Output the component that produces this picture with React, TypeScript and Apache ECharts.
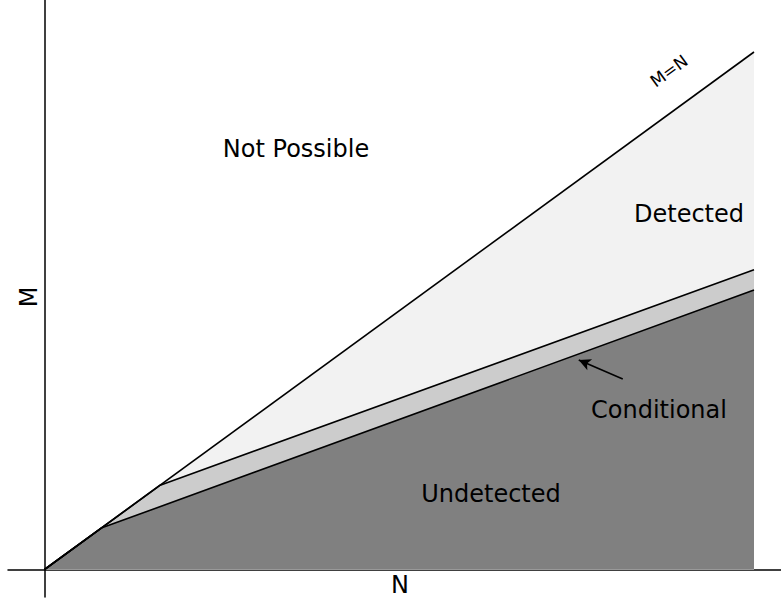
import React, { useEffect, useRef } from "react";
import * as echarts from "echarts";

// Region boundaries in (N, M) units
const mEqualsN: number[][] = [[0, 0], [1, 1]];
const conditionalUpper: number[][] = [[0, 0], [0.163, 0.163], [1, 0.579]];
const conditionalLower: number[][] = [[0, 0], [0.08, 0.08], [1, 0.54]];
const arrowFrom: number[] = [0.815, 0.368];
const arrowTo: number[] = [0.753, 0.405];

const regionLabels = ["Not Possible", "Detected", "Conditional", "Undetected"];
const diagonalLabel = "M=N";
const xName = "N";
const yName = "M";

const FONT = "DejaVu Sans";

export default function App() {
  const ref = useRef<HTMLDivElement>(null);
  useEffect(() => {
    if (!ref.current) return;
    const chart = echarts.init(ref.current, null, { renderer: "svg" });
    const lineStyle = { color: "#000", width: 1.6 };
    const mk = (name: string, data: number[][], fill: string) => ({
      name,
      type: "line",
      data,
      symbol: "none",
      lineStyle,
      areaStyle: { color: fill, opacity: 1, origin: 0 },
      silent: true,
    });
    const txt = (text: string, x: number, y: number, size: number, rotation = 0) => ({
      type: "text",
      x,
      y,
      z: 100,
      rotation,
      style: { text, font: `${size}px '${FONT}'`, fill: "#000", align: "center", verticalAlign: "middle" },
    });
    chart.setOption({
      animation: false,
      grid: { left: 8, right: 0, top: 0, bottom: 3 },
      xAxis: {
        type: "value",
        min: -0.05144,
        max: 1.03806,
        axisLine: { onZero: true, lineStyle: { color: "#000", width: 1.5 } },
        axisTick: { show: false },
        axisLabel: { show: false },
        splitLine: { show: false },
      },
      yAxis: {
        type: "value",
        min: -0.05314,
        max: 1.10048,
        axisLine: { show: true, onZero: true, lineStyle: { color: "#000", width: 1.5 } },
        axisTick: { show: false },
        axisLabel: { show: false },
        splitLine: { show: false },
      },
      series: [
        mk("Detected", mEqualsN, "#f2f2f2"),
        mk("Conditional", conditionalUpper, "#cccccc"),
        {
          ...mk("Undetected", conditionalLower, "#808080"),
          markLine: {
            silent: true,
            symbol: ["none", "arrow"],
            symbolSize: [9, 12],
            label: { show: false },
            lineStyle: { color: "#000", width: 1.6, type: "solid" },
            data: [[{ coord: arrowFrom }, { coord: arrowTo }]],
          },
        },
      ],
      graphic: [
        txt(regionLabels[0], 296, 149, 24),
        txt(regionLabels[1], 689, 214, 24),
        txt(regionLabels[2], 659, 410, 24),
        txt(regionLabels[3], 491, 494, 24),
        txt(xName, 400, 585, 24),
        txt(yName, 29, 297, 24, Math.PI / 2),
        txt(diagonalLabel, 669, 71, 17, (36.1 * Math.PI) / 180),
      ],
    });
    return () => chart.dispose();
  }, []);
  return <div ref={ref} style={{ width: 781, height: 600, position: "absolute", left: 0, top: 0 }} />;
}
